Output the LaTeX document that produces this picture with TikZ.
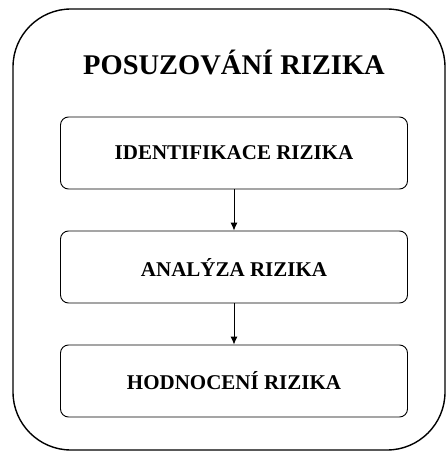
\documentclass[tikz,border=0pt]{standalone}
\usepackage{fontspec}
\setmainfont{Liberation Serif}
\usetikzlibrary{arrows.meta,shapes}

\tikzset{
	krok/.style={draw, line width=0.9pt, rounded corners=8pt, minimum width=347pt, minimum height=72pt, inner sep=0pt, font=\fontsize{21}{24}\selectfont\bfseries},
	sipka/.style={-{Latex[length=8pt,width=7pt]}, line width=0.9pt}
}

\begin{document}
\begin{tikzpicture}[x=1pt, y=-1pt]

	\useasboundingbox (0,0) rectangle (446,452);
	% outer frame
	\draw [line width=1.4pt, rounded corners=58pt] (13,9) rectangle (445,450);
	% title
	\node (titulek) at (234,62.5) {\fontsize{28.5}{32}\selectfont\bfseries POSUZOVÁNÍ RIZIKA};
	% three steps
	\node [krok] (identifikace) at (234,153) {IDENTIFIKACE RIZIKA};
	\node [krok] (analyza) at (234,267) {ANALÝZA RIZIKA};
	\node [krok] (hodnoceni) at (234,381) {HODNOCENÍ RIZIKA};
	% arrows
	\draw [sipka] (identifikace) -- (analyza);
	\draw [sipka] (analyza) -- (hodnoceni);

\end{tikzpicture}
\end{document}
